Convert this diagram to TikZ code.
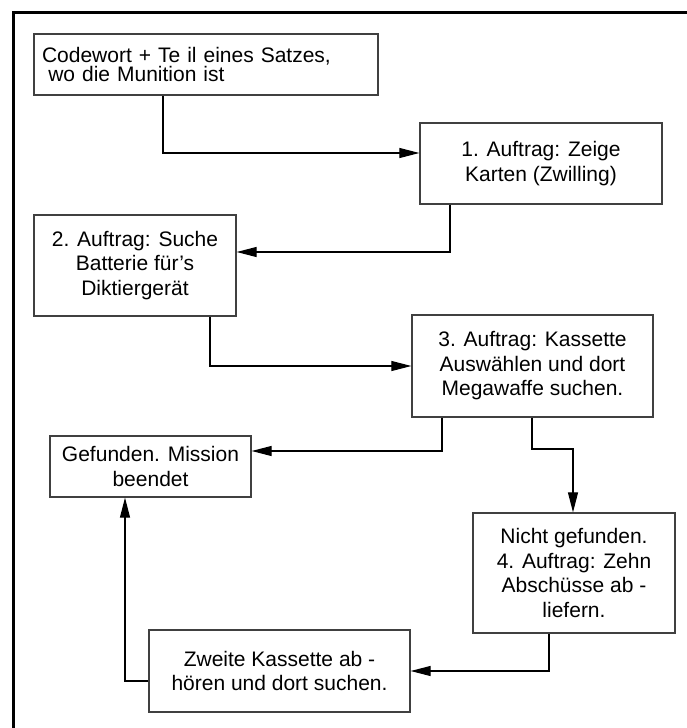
\documentclass[tikz,border=0pt]{standalone}
\usepackage{fontspec}
\setmainfont{Liberation Sans}
\usetikzlibrary{arrows.meta,calc}
\begin{document}
\begin{tikzpicture}[x=1pt,y=-1pt,
  font=\fontsize{21}{24.5}\selectfont,
  box/.style={draw=black!75, line width=1.3pt, align=center, inner sep=0pt},
  arr/.style={draw=black, line width=1.1pt, -{Triangle[length=20pt,width=10pt]}}]
\useasboundingbox (0,0) rectangle (687,728);
\draw[line width=3pt] (13,728) -- (13,12) -- (687,12);

\node[box, minimum width=344pt, minimum height=61pt, text width=328pt, align=left,
  font=\fontsize{21}{19.5}\selectfont] (A) at (206,64.5)
  {Codewort + Te il eines Satzes,\\\hspace*{0.3em}wo die Munition ist};
\node[box, minimum width=242pt, minimum height=81pt] (B) at (541,163.5)
  {1. Auftrag: Zeige\\Karten (Zwilling)};
\node[box, minimum width=202pt, minimum height=101pt] (C) at (135,265.5)
  {2. Auftrag: Suche\\Batterie für’s\\Diktiergerät};
\node[box, minimum width=241pt, minimum height=102pt] (D) at (532.5,366)
  {3. Auftrag: Kassette\\Auswählen und dort\\Megawaffe suchen.};
\node[box, minimum width=201pt, minimum height=61pt] (E) at (150.5,466.5)
  {Gefunden. Mission\\beendet};
\node[box, minimum width=202pt, minimum height=120pt] (F) at (574,573)
  {Nicht gefunden.\\4. Auftrag: Zehn\\Abschüsse ab -\\liefern.};
\node[box, minimum width=261pt, minimum height=82pt] (G) at (279.5,671)
  {Zweite Kassette ab -\\hören und dort suchen.};

\coordinate (c1) at (163,153);
\coordinate (c2) at (450,252);
\coordinate (c3) at (210,366);
\coordinate (c4) at (442,451);
\coordinate (c5) at (532,449);
\coordinate (c6) at (573,449);
\coordinate (c7) at (549,671);
\coordinate (c8) at (125,681);

\draw[arr] (A.south -| c1) |- (B.west |- c1);
\draw[arr] (B.south -| c2) |- (C.east |- c2);
\draw[arr] (C.south -| c3) |- (D.west |- c3);
\draw[arr] (D.south -| c4) |- (E.east |- c4);
\draw[arr] (D.south -| c5) -- (c5) -- (c6) -- (F.north -| c6);
\draw[arr] (F.south -| c7) |- (G.east |- c7);
\draw[arr] (G.west |- c8) -| (E.south -| c8);
\end{tikzpicture}
\end{document}
